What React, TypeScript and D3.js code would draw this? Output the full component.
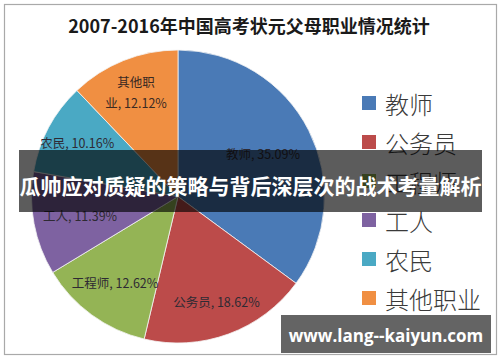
import React from "react";
import * as d3 from "d3";

const title = "2007-2016年中国高考状元父母职业情况统计";
const categories = ["教师", "公务员", "工程师", "工人", "农民", "其他职业"];
const values = [35.09, 18.62, 12.62, 11.39, 10.16, 12.12];
const colors = ["#4A7AB6", "#BC4B4A", "#94B455", "#7E62A1", "#4AA9C4", "#F08F42"];
const bannerText = "瓜帅应对质疑的策略与背后深层次的战术考量解析";
const watermark = "www.lang--kaiyun.com";

// label placement (styling): fraction of radius for each slice label
const labelRadius = [0.65, 0.76, 0.73, 0.68, 0.78, 0.77];

const W = 500;
const H = 362;
const cx = 178;
const cy = 196.5;
const R = 146.5;

export default function App() {
  const pie = d3
    .pie<number>()
    .sort(null)
    .value((d) => d)
    .startAngle(0)
    .endAngle(2 * Math.PI);
  const arcs = pie(values);
  const arcGen = d3.arc<d3.PieArcDatum<number>>().innerRadius(0).outerRadius(R);

  const legendY = d3
    .scalePoint<string>()
    .domain(categories)
    .range([103, 298]);

  const cjk = "'Noto Sans CJK SC', 'Noto Sans', sans-serif";

  return (
    <svg
      width={W}
      height={H}
      style={{ position: "absolute", left: 0, top: 0, background: "#fff" }}
    >
      <rect x={0} y={0} width={W} height={H} fill="#fff" />
      <rect x={4.5} y={4.5} width={492} height={350} fill="#fff" stroke="#a9a9a9" strokeWidth={1.2} />
      <text
        x={249}
        y={25}
        textAnchor="middle"
        dominantBaseline="central"
        fontFamily={cjk}
        fontWeight="bold"
        fontSize={18}
        fill="#1a1a1a"
      >
        {title}
      </text>
      <g transform={`translate(${cx},${cy})`}>
        {arcs.map((a, i) => (
          <path key={i} d={arcGen(a) || ""} fill={colors[i]} stroke="#f4f4f4" strokeWidth={0.8} />
        ))}
        {arcs.map((a, i) => {
          const lr = R * labelRadius[i];
          const lg = d3.arc<d3.PieArcDatum<number>>().innerRadius(lr).outerRadius(lr);
          const [x, y] = lg.centroid(a);
          const pct = `${values[i].toFixed(2)}%`;
          if (categories[i].length > 3) {
            return (
              <text
                key={i}
                x={x}
                y={y}
                textAnchor="middle"
                fontFamily={cjk}
                fontSize={12.5}
                fill="#3a2a22"
              >
                <tspan x={x} dy={-10.5} dominantBaseline="central">
                  {categories[i].slice(0, 3)}
                </tspan>
                <tspan x={x} dy={21} dominantBaseline="central">
                  {`${categories[i].slice(3)}, ${pct}`}
                </tspan>
              </text>
            );
          }
          return (
            <text
              key={i}
              x={x}
              y={y}
              textAnchor="middle"
              dominantBaseline="central"
              fontFamily={cjk}
              fontSize={12.5}
              fill="#2e2a33"
            >
              {`${categories[i]}, ${pct}`}
            </text>
          );
        })}
      </g>
      <g>
        {categories.map((c, i) => (
          <g key={c} transform={`translate(362,${legendY(c)})`}>
            <rect x={0} y={-7} width={14} height={14} fill={colors[i]} />
            <text
              x={23}
              y={0}
              dominantBaseline="central"
              fontFamily={cjk}
              fontWeight={300}
              fontSize={24}
              fill="#3a3a3a"
            >
              {c}
            </text>
          </g>
        ))}
      </g>
      <rect x={19} y={150} width={463} height={62} fill="rgba(0,0,0,0.64)" />
      <text
        x={250.5}
        y={185}
        textAnchor="middle"
        dominantBaseline="central"
        fontFamily={cjk}
        fontWeight="bold"
        fontSize={21}
        fill="#fff"
      >
        {bannerText}
      </text>
      <rect x={281} y={315} width={210} height={38} fill="#646464" />
      <text
        x={386}
        y={335}
        textAnchor="middle"
        dominantBaseline="central"
        fontFamily="'Open Sans', 'Liberation Sans', sans-serif"
        fontWeight="bold"
        fontSize={17}
        fill="#fff"
      >
        {watermark}
      </text>
    </svg>
  );
}
